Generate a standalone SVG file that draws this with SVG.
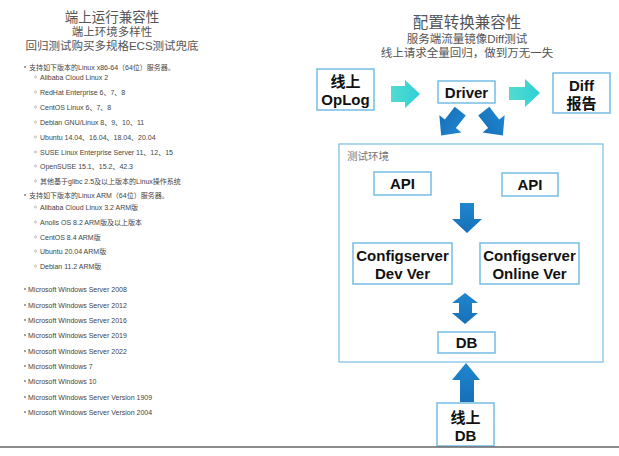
<svg xmlns="http://www.w3.org/2000/svg" width="619" height="456" viewBox="0 0 619 456">
<style>
.t1{font-family:"Liberation Sans","Noto Sans CJK SC",sans-serif;fill:#555;text-anchor:middle}
.li{font-family:"Liberation Sans","Noto Sans CJK SC",sans-serif;font-size:7px;fill:#444}
.box{fill:#fff;stroke:#74bde3;stroke-width:1.5}
.bt{font-family:"Liberation Sans","Noto Sans CJK SC",sans-serif;font-size:15px;font-weight:bold;fill:#111;text-anchor:middle}
.cy{fill:url(#gc)}
.bl{fill:url(#gb)}
.dot{fill:#777}
.sub{fill:none;stroke:#999;stroke-width:0.6}
</style>
<defs>
<linearGradient id="gc" x1="0" y1="0" x2="1" y2="0"><stop offset="0" stop-color="#52dccf"/><stop offset="1" stop-color="#2fcfd9"/></linearGradient>
<linearGradient id="gb" x1="0" y1="0" x2="0" y2="1"><stop offset="0" stop-color="#1f86cf"/><stop offset="1" stop-color="#1670b8"/></linearGradient>
</defs>
<rect width="619" height="456" fill="#fff"/>

<g id="left-title">
<text class="t1" x="112" y="22" font-size="13.5">端上运行兼容性</text>
<text class="t1" x="112" y="36" font-size="11.5">端上环境多样性</text>
<text class="t1" x="112" y="50" font-size="11.5">回归测试购买多规格ECS测试兜底</text>
</g>

<g id="left-list">
<circle class="dot" cx="25" cy="67" r="0.9"/><text class="li" x="29" y="69.5">支持如下版本的Linux x86-64（64位）服务器。</text>
<circle class="sub" cx="35.5" cy="77" r="1"/><text class="li" x="40" y="79.5">Alibaba Cloud Linux 2</text>
<circle class="sub" cx="35.5" cy="92" r="1"/><text class="li" x="40" y="94.5">RedHat Enterprise 6、7、8</text>
<circle class="sub" cx="35.5" cy="107" r="1"/><text class="li" x="40" y="109.5">CentOS Linux 6、7、8</text>
<circle class="sub" cx="35.5" cy="122" r="1"/><text class="li" x="40" y="124.5">Debian GNU/Linux 8、9、10、11</text>
<circle class="sub" cx="35.5" cy="137" r="1"/><text class="li" x="40" y="139.5">Ubuntu 14.04、16.04、18.04、20.04</text>
<circle class="sub" cx="35.5" cy="152" r="1"/><text class="li" x="40" y="154.5">SUSE Linux Enterprise Server 11、12、15</text>
<circle class="sub" cx="35.5" cy="166" r="1"/><text class="li" x="40" y="168.5">OpenSUSE 15.1、15.2、42.3</text>
<circle class="sub" cx="35.5" cy="181" r="1"/><text class="li" x="40" y="183.5">其他基于glibc 2.5及以上版本的Linux操作系统</text>
<circle class="dot" cx="25" cy="195" r="0.9"/><text class="li" x="29" y="197.5">支持如下版本的Linux ARM（64位）服务器。</text>
<circle class="sub" cx="35.5" cy="207" r="1"/><text class="li" x="40" y="209.5">Alibaba Cloud Linux 3.2 ARM版</text>
<circle class="sub" cx="35.5" cy="222" r="1"/><text class="li" x="40" y="224.5">Anolis OS 8.2 ARM版及以上版本</text>
<circle class="sub" cx="35.5" cy="237" r="1"/><text class="li" x="40" y="239.5">CentOS 8.4 ARM版</text>
<circle class="sub" cx="35.5" cy="251" r="1"/><text class="li" x="40" y="253.5">Ubuntu 20.04 ARM版</text>
<circle class="sub" cx="35.5" cy="266" r="1"/><text class="li" x="40" y="268.5">Debian 11.2 ARM版</text>
<circle class="dot" cx="25" cy="289" r="0.9"/><text class="li" x="28" y="291.5">Microsoft Windows Server 2008</text>
<circle class="dot" cx="25" cy="305" r="0.9"/><text class="li" x="28" y="307.5">Microsoft Windows Server 2012</text>
<circle class="dot" cx="25" cy="320" r="0.9"/><text class="li" x="28" y="322.5">Microsoft Windows Server 2016</text>
<circle class="dot" cx="25" cy="335" r="0.9"/><text class="li" x="28" y="337.5">Microsoft Windows Server 2019</text>
<circle class="dot" cx="25" cy="351" r="0.9"/><text class="li" x="28" y="353.5">Microsoft Windows Server 2022</text>
<circle class="dot" cx="25" cy="366" r="0.9"/><text class="li" x="28" y="368.5">Microsoft Windows 7</text>
<circle class="dot" cx="25" cy="381" r="0.9"/><text class="li" x="28" y="383.5">Microsoft Windows 10</text>
<circle class="dot" cx="25" cy="397" r="0.9"/><text class="li" x="28" y="399.5">Microsoft Windows Server Version 1909</text>
<circle class="dot" cx="25" cy="412" r="0.9"/><text class="li" x="28" y="414.5">Microsoft Windows Server Version 2004</text>
</g>

<g id="right-title">
<text class="t1" x="467" y="28" font-size="15.5">配置转换兼容性</text>
<text class="t1" x="467" y="43" font-size="11.5">服务端流量镜像Diff测试</text>
<text class="t1" x="467" y="57" font-size="11.5">线上请求全量回归，做到万无一失</text>
</g>

<g id="test-env">
<rect x="339" y="144" width="264" height="218" fill="none" stroke="#82c3e6" stroke-width="1.3"/>
<text x="347" y="160" font-family="Liberation Sans,'Noto Sans CJK SC',sans-serif" font-size="10.5" fill="#777">测试环境</text>
</g>

<g id="connectors">
<polygon class="cy" points="391,86 405,86 405,80 420,94 405,108 405,102 391,102"/>
<polygon class="cy" points="509,87 525,87 525,79 540,93 525,107 525,100 509,100"/>
<polygon class="bl" transform="translate(451,123) rotate(128)" points="-15,-7 1,-7 1,-14 16,0 1,14 1,7 -15,7"/>
<polygon class="bl" transform="translate(493,123) rotate(52)" points="-15,-7 1,-7 1,-14 16,0 1,14 1,7 -15,7"/>
<polygon class="bl" points="460,203 474,203 474,219 482,219 467,233 452,219 460,219"/>
<polygon class="bl" points="465,293 478,303 472,303 472,313 478,313 465,324 452,313 459,313 459,303 452,303"/>
<polygon class="bl" points="466,363 480,380 474,380 474,402 460,402 460,380 452,380"/>
</g>

<g id="oplog"><rect class="box" x="317" y="69" width="57" height="41"/>
<text class="bt" x="345.5" y="87" font-size="16">线上</text><text class="bt" x="345.5" y="105" font-size="16">OpLog</text></g>
<g id="driver"><rect class="box" x="438" y="81" width="57" height="22"/>
<text class="bt" x="466.5" y="97.5">Driver</text></g>
<g id="diff"><rect class="box" x="553" y="73" width="57" height="40"/>
<text class="bt" x="581.5" y="90.5" font-size="16">Diff</text><text class="bt" x="581.5" y="109" font-size="16">报告</text></g>
<g id="api-left"><rect class="box" x="374" y="172" width="57" height="23"/>
<text class="bt" x="402.5" y="189">API</text></g>
<g id="api-right"><rect class="box" x="502" y="173" width="56" height="23"/>
<text class="bt" x="530" y="190">API</text></g>
<g id="cs-dev"><rect class="box" x="353" y="243" width="99" height="41"/>
<text class="bt" x="402.5" y="260.5">Configserver</text><text class="bt" x="402.5" y="278.5">Dev Ver</text></g>
<g id="cs-online"><rect class="box" x="480" y="243" width="99" height="41"/>
<text class="bt" x="529.5" y="260.5">Configserver</text><text class="bt" x="529.5" y="278.5">Online Ver</text></g>
<g id="db"><rect class="box" x="438" y="332" width="57" height="21"/>
<text class="bt" x="466.5" y="348">DB</text></g>
<g id="online-db"><rect class="box" x="437" y="403" width="57" height="43"/>
<text class="bt" x="465.5" y="423" font-size="16">线上</text><text class="bt" x="465.5" y="441">DB</text></g>

<line x1="0" y1="447" x2="619" y2="447" stroke="#666" stroke-width="1.5"/>
</svg>
